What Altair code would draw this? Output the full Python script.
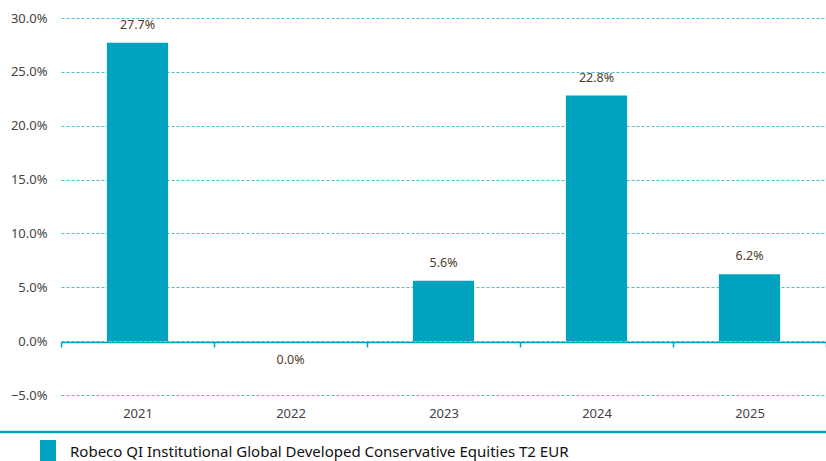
import altair as alt
import pandas as pd

years = ["2021", "2022", "2023", "2024", "2025"]
values = [27.7, 0.0, 5.6, 22.8, 6.2]
series = "Robeco QI Institutional Global Developed Conservative Equities T2 EUR"
y_ticks = [-5, 0, 5, 10, 15, 20, 25, 30]

df = pd.DataFrame({"year": years, "value": values, "series": [series] * len(years)})
df["label"] = [f"{v:.1f}%" for v in values]

TEAL = "#00a3bf"
FONT = "Noto Sans"

x_enc = alt.X("year:N", sort=years, scale=alt.Scale(paddingInner=0, paddingOuter=0),
              axis=alt.Axis(title=None, orient="bottom", offset=-53, domainColor=TEAL,
                            domainWidth=1.5, tickColor=TEAL, tickSize=5, tickWidth=1.5,
                            tickBand="extent", labelPadding=60, labelFont=FONT,
                            labelFontSize=13, labelColor="#444444", labelAngle=0))
y_scale = alt.Scale(domain=[-5, 30], nice=False)

base = alt.Chart(df)

bars = base.mark_bar(color=TEAL, width=alt.RelativeBandSize(0.4)).encode(
    x=x_enc,
    y=alt.Y("value:Q", scale=y_scale,
            axis=alt.Axis(title=None, values=y_ticks, labelExpr="format(datum.value,'.1f')+'%'",
                          domain=False, ticks=False, labelPadding=14, labelFont=FONT,
                          labelFontSize=13, labelColor="#444444",
                          grid=True, gridColor="#4dbfd4", gridDash=[3, 2], gridWidth=1)),
)

labels_pos = base.transform_filter("datum.value > 0").mark_text(
    baseline="bottom", dy=-11, font=FONT, fontSize=12.5, color="#4d3d2b"
).encode(x=alt.X("year:N", sort=years), y=alt.Y("value:Q", scale=y_scale), text="label:N")

labels_zero = base.transform_filter("datum.value <= 0").mark_text(
    baseline="top", dy=13, font=FONT, fontSize=12.5, color="#4d3d2b"
).encode(x=alt.X("year:N", sort=years), y=alt.Y("value:Q", scale=y_scale), text="label:N")

legend_df = pd.DataFrame({"series": [series]})
sep = alt.Chart(legend_df).mark_rule(color=TEAL, strokeWidth=2.5).encode(
    x=alt.value(-61), x2=alt.value(765), y=alt.value(414)
)
swatch = alt.Chart(legend_df).mark_rect(color=TEAL).encode(
    x=alt.value(-21), x2=alt.value(-5), y=alt.value(422), y2=alt.value(446)
)
legend_text = alt.Chart(legend_df).mark_text(
    align="left", baseline="middle", font=FONT, fontSize=15, color="#111111"
).encode(x=alt.value(9), y=alt.value(434), text="series:N")

chart = alt.layer(bars, labels_pos, labels_zero, sep, swatch, legend_text).properties(
    width=765, height=377,
    padding={"left": 61, "top": 18, "right": 0, "bottom": 66},
    autosize=alt.AutoSizeParams(type="none"),
).configure_view(stroke=None)

chart.save("out.html", embed_options={"renderer": "svg", "actions": False})
